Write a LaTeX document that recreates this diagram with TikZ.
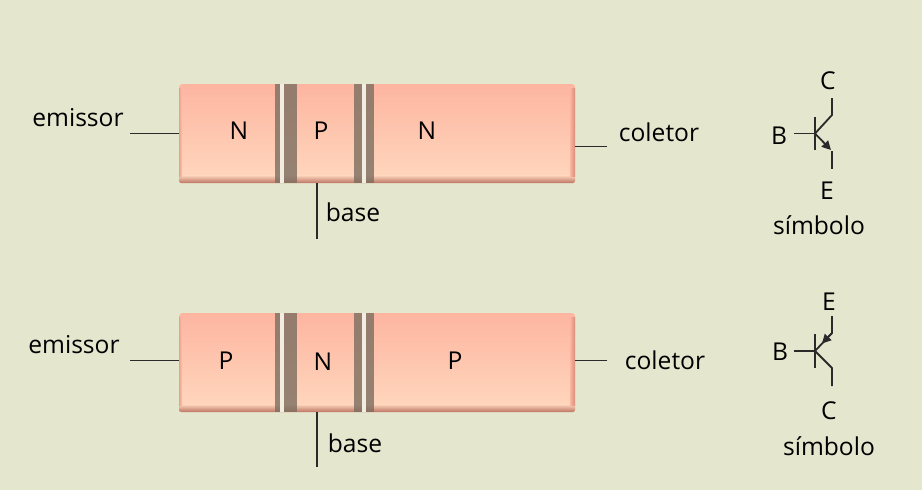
\documentclass[tikz,border=0pt]{standalone}
\usepackage{fontspec}
\setmainfont{Open Sans}
\usetikzlibrary{arrows.meta}
\definecolor{bgc}{HTML}{E4E7CE}
\definecolor{bartop}{HTML}{FDB5A0}
\definecolor{barbot}{HTML}{FFD8BE}
\definecolor{baredge}{HTML}{BC7464}
\definecolor{bandc}{HTML}{7C6E60}
\definecolor{gapc}{HTML}{F1EDE0}
\definecolor{inkc}{HTML}{2A2A2A}
\tikzset{
  x=1pt,y=-1pt,
  lab/.style={anchor=base,inner sep=0pt,font=\fontsize{24.6}{28}\selectfont,text=black},
  wire/.style={draw=inkc,line width=1.6pt},
  symw/.style={draw=inkc,line width=1.8pt},
  barbox/.style={rectangle,inner sep=0pt,minimum width=396pt,minimum height=99pt,rounded corners=3pt,
     top color=bartop,bottom color=barbot,draw=none},
  head/.style={-{Stealth[length=9pt,width=9pt,inset=0pt]}},
  bandf/.style={fill=bandc,opacity=.8},
  gapf/.style={fill=gapc},
}
\newcommand{\semibar}[2]{% name, top y
  \node[barbox,anchor=north west] (#1) at (179,#2) {};
  \begin{scope}[shift={(0,#2)}]
    \shade[top color=barbot,bottom color=baredge,rounded corners=2pt] (179,91) rectangle (575,99);
    \shade[left color=bartop,right color=baredge!60!bartop] (570,4) rectangle (575,92);
    \shade[left color=baredge!30!bartop,right color=bartop!60!barbot] (179,4) rectangle (182,92);
    \path[bandf] (275,0) rectangle (280,99);
    \path[gapf] (280,0) rectangle (284,99);
    \path[bandf] (284,0) rectangle (297,99);
    \path[bandf] (354,0) rectangle (362,99);
    \path[gapf] (362,0) rectangle (366,99);
    \path[bandf] (366,0) rectangle (374,99);
  \end{scope}
}
\begin{document}
\begin{tikzpicture}
\useasboundingbox (0,0) rectangle (922,490);
\fill[bgc] (0,0) rectangle (922,490);
\semibar{barA}{84}
\semibar{barB}{313}
% top bar labels
\node[lab] (nA) at (239,139) {N};
\node[lab] (pA) at (321,139) {P};
\node[lab] (mA) at (427,139) {N};
\node[lab] (emA) at (78,126) {emissor};
\node[lab] (coA) at (659,141) {coletor};
\node[lab] (baA) at (353,221) {base};
% bottom bar labels
\node[lab] (nB) at (226,369) {P};
\node[lab] (pB) at (323,370) {N};
\node[lab] (mB) at (455,369) {P};
\node[lab] (emB) at (74,353) {emissor};
\node[lab] (coB) at (665,369) {coletor};
\node[lab] (baB) at (355,452) {base};
% leads
\coordinate (e1) at (130,133.5);
\coordinate (c1) at (607,146.5);
\coordinate (b1) at (317,239);
\coordinate (e2) at (130,360.5);
\coordinate (c2) at (607,360.5);
\coordinate (b2) at (317,467);
\draw[wire] (e1) -- (barA.west |- e1);
\draw[wire] (c1) -- (barA.east |- c1);
\draw[wire] (b1) -- (b1 |- barA.south);
\draw[wire] (e2) -- (barB.west |- e2);
\draw[wire] (c2) -- (barB.east |- c2);
\draw[wire] (b2) -- (b2 |- barB.south);
% NPN symbol
\node[lab] (sC1) at (828,89) {C};
\node[lab] (sB1) at (779,144) {B};
\node[lab] (sE1) at (827,199) {E};
\node[lab] (sS1) at (819,234) {símbolo};
\coordinate (j1) at (815,133.5);
\coordinate (ct1) at (832,98);
\coordinate (ck1) at (832,115);
\coordinate (bb1) at (794,133.5);
\coordinate (et1) at (831,150);
\coordinate (ee1) at (832,151);
\coordinate (ef1) at (832,169);
\draw[symw] (815,117) -- (815,150);
\draw[symw] (bb1) -- (j1);
\draw[symw,line join=round] (ct1) -- (ck1) -- (j1);
\draw[symw,head] (j1) -- (et1);
\draw[symw] (ee1) -- (ef1);
% PNP symbol
\node[lab] (sE2) at (829,310) {E};
\node[lab] (sB2) at (780,360) {B};
\node[lab] (sC2) at (829,419) {C};
\node[lab] (sS2) at (829,455) {símbolo};
\coordinate (j2) at (815,351);
\coordinate (et2) at (832,316);
\coordinate (ek2) at (832,333);
\coordinate (bb2) at (794,351);
\coordinate (ck2) at (832,368);
\coordinate (ct2) at (832,386);
\coordinate (am2) at (822,343.5);
\draw[symw] (815,334) -- (815,368);
\draw[symw] (bb2) -- (j2);
\draw[symw,line join=round] (et2) -- (ek2) -- (j2);
\draw[symw,head] (ek2) -- (am2);
\draw[symw,line join=round] (j2) -- (ck2) -- (ct2);
\end{tikzpicture}
\end{document}
